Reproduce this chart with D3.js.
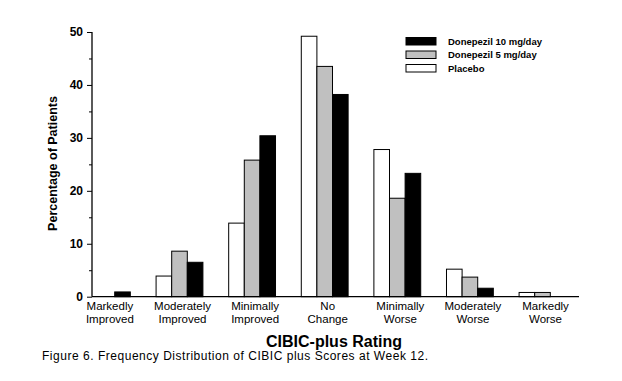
<!DOCTYPE html>
<html><head><meta charset="utf-8">
<script src="https://cdn.jsdelivr.net/npm/d3@7"></script>
<style>body{margin:0;background:#fff}svg{display:block}text{font-family:Arial,"Liberation Sans",sans-serif}</style>
</head><body>
<svg id="c" width="622" height="381"></svg>
<script>
const categories = [["Markedly","Improved"],["Moderately","Improved"],["Minimally","Improved"],["No","Change"],["Minimally","Worse"],["Moderately","Worse"],["Markedly","Worse"]];
const seriesNames = ["Placebo","Donepezil 5 mg/day","Donepezil 10 mg/day"];
const placebo = [0, 3.9, 13.9, 49.2, 27.8, 5.2, 0.8];
const done5 = [0, 8.6, 25.8, 43.5, 18.6, 3.7, 0.8];
const done10 = [0.9, 6.5, 30.4, 38.2, 23.3, 1.6, 0];
const series = [placebo, done5, done10];
const colors = ["#ffffff", "#c0c0c0", "#000000"];
const yTicks = [0,10,20,30,40,50];
const legendOrder = [2,1,0];

const svg = d3.select("#c");
const y = d3.scaleLinear().domain([0,50]).range([296.7, 32]);
const x0 = d3.scaleBand().domain(d3.range(categories.length)).range([61.7, 587.7]).paddingInner(0.355).paddingOuter(0.3);
const x1 = d3.scaleBand().domain(d3.range(series.length)).range([0, x0.bandwidth()]);

// bars
series.forEach((vals, si) => {
  svg.append("g").selectAll("rect").data(vals).join("rect")
    .attr("x", (d,i) => x0(i) + x1(si))
    .attr("y", d => y(d))
    .attr("width", x1.bandwidth())
    .attr("height", d => y(0) - y(d))
    .attr("fill", colors[si])
    .attr("stroke", d => d > 0 ? "#000" : "none")
    .attr("stroke-width", 1);
});

// y axis
const axX = 92;
const yAxis = svg.append("g").attr("transform", `translate(${axX},0)`)
  .call(d3.axisLeft(y).tickValues(yTicks).tickSize(5).tickPadding(4).tickFormat(d3.format("d")));
yAxis.select(".domain").attr("stroke","#000").attr("stroke-width",1.3).attr("d", `M0,${y(0)}V${y(50)}`);
yAxis.selectAll(".tick text").attr("font-size", 12).attr("font-weight","bold").attr("fill","#000");
svg.append("g").attr("transform", `translate(${axX},0)`)
  .call(d3.axisLeft(y).tickValues([5,15,25,35,45]).tickSize(3).tickFormat(""))
  .select(".domain").remove();

// x axis line
svg.append("line").attr("x1", axX).attr("x2", 579).attr("y1", y(0)).attr("y2", y(0)).attr("stroke","#000").attr("stroke-width",1.3);

// category labels (two lines each)
const labG = svg.append("g").selectAll("g").data(categories).join("g")
  .attr("transform", (d,i) => `translate(${x0(i) + x0.bandwidth()/2 + 3},0)`);
[0,1].forEach(li => {
  labG.append("text").attr("x", 0).attr("y", 310 + li*12.9)
    .attr("text-anchor","middle").attr("font-size", 11.5).attr("fill","#000")
    .attr("textLength", d => d[li].length > 3 ? null : null)
    .text(d => d[li]);
});
labG.selectAll("text").attr("textLength", null);

// axis titles
svg.append("text").attr("x", 334).attr("y", 347).attr("text-anchor","middle")
  .attr("font-size", 16).attr("font-weight","bold").text("CIBIC-plus Rating");
svg.append("text").attr("transform","translate(57,163.5) rotate(-90)").attr("text-anchor","middle")
  .attr("font-size", 12.5).attr("font-weight","bold").text("Percentage of Patients");

// caption
svg.append("text").attr("x", 42).attr("y", 359.5).attr("font-size", 12).attr("fill","#000")
  .attr("textLength", 386).attr("lengthAdjust","spacing")
  .text("Figure 6. Frequency Distribution of CIBIC plus Scores at Week 12.");

// legend
const lg = svg.append("g").selectAll("g").data(legendOrder).join("g")
  .attr("transform", (d,i) => `translate(406,${37.5 + i*13.5})`);
lg.append("rect").attr("width", 30).attr("height", 7.5)
  .attr("fill", d => colors[d]).attr("stroke","#000").attr("stroke-width",1);
lg.append("text").attr("x", 42).attr("y", 3.75).attr("dy","0.35em")
  .attr("font-size", 9.5).attr("font-weight","bold").text(d => seriesNames[d]);
</script>
</body></html>
